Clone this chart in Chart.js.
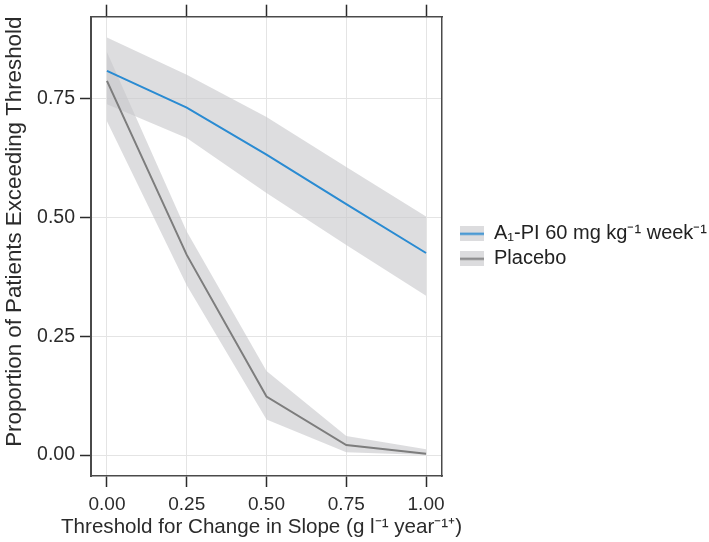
<!DOCTYPE html>
<html>
<head>
<meta charset="utf-8">
<script src="https://cdn.jsdelivr.net/npm/chart.js@4/dist/chart.umd.min.js"></script>
<style>
  html, body { margin: 0; padding: 0; background: #ffffff; }
  #wrap { width: 709px; height: 542px; }
</style>
</head>
<body>
<div id="wrap"><canvas id="c" width="709" height="542"></canvas></div>
<script>
// ---- data ----
const thresholds = [0.00, 0.25, 0.50, 0.75, 1.00];
const xTickLabels = ["0.00", "0.25", "0.50", "0.75", "1.00"];
const yTickValues = [0.00, 0.25, 0.50, 0.75];

const a1piMean  = [0.808, 0.731, 0.632, 0.528, 0.425];
const a1piUpper = [0.878, 0.800, 0.711, 0.606, 0.502];
const a1piLower = [0.738, 0.667, 0.551, 0.442, 0.335];

const placeboMean  = [0.787, 0.421, 0.123, 0.021, 0.003];
const placeboUpper = [0.848, 0.470, 0.177, 0.040, 0.012];
const placeboLower = [0.702, 0.357, 0.075, 0.006, 0.000];

const seriesLabels = ["A\u2081-PI 60 mg kg\u207B\u00B9 week\u207B\u00B9", "Placebo"];
const xTitle = "Threshold for Change in Slope (g l\u207B\u00B9 year\u207B\u00B9\u207A)";
const yTitle = "Proportion of Patients Exceeding Threshold";

// ---- styling ----
const BLUE = "#2a8bd2";
const GREY = "#7d7d7d";
const RIBBON = "rgba(200,200,203,0.62)";
const DARK = "#2b2b2b";
const GRID = "#e4e4e4";
const FONT = "'Liberation Sans', Arial, Helvetica, sans-serif";

function pts(ys) { return thresholds.map((x, i) => ({ x: x, y: ys[i] })); }

function keyImage(color) {
  const cv = document.createElement("canvas");
  cv.width = 24; cv.height = 15;
  const g = cv.getContext("2d");
  g.fillStyle = "#dcdcde";
  g.fillRect(0, 0, 24, 15);
  g.strokeStyle = color;
  g.lineWidth = 2;
  g.beginPath(); g.moveTo(0, 7.5); g.lineTo(24, 7.5); g.stroke();
  return cv;
}
const keyImages = [keyImage(BLUE), keyImage(GREY)];

const setTicks = vals => scale => { scale.ticks = vals.map(v => ({ value: v })); };

// x-axis title drawn below the bottom axis, centred on the plot (wider than the plot, so not squeezed)
const xTitlePlugin = {
  id: "xTitlePlugin",
  afterDraw(chart) {
    const { ctx, chartArea } = chart;
    ctx.save();
    ctx.font = "20.6px " + FONT;
    ctx.fillStyle = DARK;
    ctx.textAlign = "center";
    ctx.textBaseline = "middle";
    ctx.fillText(xTitle, (chartArea.left + chartArea.right) / 2 - 5, 527);
    ctx.restore();
  }
};

const ctx = document.getElementById("c").getContext("2d");
new Chart(ctx, {
  type: "line",
  plugins: [xTitlePlugin],
  data: {
    datasets: [
      { label: seriesLabels[0], data: pts(a1piMean), borderColor: BLUE, borderWidth: 2, pointRadius: 0, fill: false, tension: 0 },
      { label: seriesLabels[1], data: pts(placeboMean), borderColor: GREY, borderWidth: 2, pointRadius: 0, fill: false, tension: 0 },
      { label: "a1piUpper", data: pts(a1piUpper), borderWidth: 0, borderColor: "rgba(0,0,0,0)", pointRadius: 0, backgroundColor: RIBBON, fill: 3 },
      { label: "a1piLower", data: pts(a1piLower), borderWidth: 0, borderColor: "rgba(0,0,0,0)", pointRadius: 0, fill: false },
      { label: "placeboUpper", data: pts(placeboUpper), borderWidth: 0, borderColor: "rgba(0,0,0,0)", pointRadius: 0, backgroundColor: RIBBON, fill: 5 },
      { label: "placeboLower", data: pts(placeboLower), borderWidth: 0, borderColor: "rgba(0,0,0,0)", pointRadius: 0, fill: false }
    ]
  },
  options: {
    responsive: false,
    animation: false,
    events: [],
    layout: { padding: { left: 0, right: 0, top: 0, bottom: 0 } },
    scales: {
      x: {
        type: "linear", position: "bottom", min: -0.05, max: 1.05,
        afterBuildTicks: setTicks(thresholds),
        afterFit: s => { s.height = 66; },
        ticks: { callback: (v, i) => xTickLabels[i], color: DARK, padding: 6, maxRotation: 0, autoSkip: false, font: { family: FONT, size: 19 } },
        grid: { color: GRID, lineWidth: 1, tickColor: DARK, tickLength: 11, tickWidth: 1.5 },
        border: { display: true, color: "#4a4a4a", width: 1.5 },
        title: { display: false }
      },
      xTop: {
        type: "linear", position: "top", min: -0.05, max: 1.05,
        afterBuildTicks: setTicks(thresholds),
        afterFit: s => { s.height = 14; },
        ticks: { display: false },
        grid: { drawOnChartArea: false, tickColor: DARK, tickLength: 12, tickWidth: 1.5 },
        border: { display: true, color: "#4a4a4a", width: 1.5 }
      },
      y: {
        type: "linear", position: "left", min: -0.044, max: 0.922,
        afterBuildTicks: setTicks(yTickValues),
        afterFit: s => { s.width = 91; },
        ticks: { callback: v => v.toFixed(2), color: DARK, padding: 5, font: { family: FONT, size: 19.5 } },
        grid: { color: GRID, lineWidth: 1, tickColor: DARK, tickLength: 11, tickWidth: 1.5 },
        border: { display: true, color: "#4a4a4a", width: 2 },
        title: { display: true, text: yTitle, align: "end", color: DARK, padding: { top: 1, bottom: 0 }, font: { family: FONT, size: 22.3 } }
      },
      yRight: {
        type: "linear", position: "right", min: -0.044, max: 0.922,
        afterFit: s => { s.width = 13; },
        ticks: { display: false },
        grid: { drawOnChartArea: false, drawTicks: false },
        border: { display: true, color: "#4a4a4a", width: 1.5 }
      }
    },
    plugins: {
      tooltip: { enabled: false },
      legend: {
        display: true,
        position: "right",
        align: "center",
        fullSize: false,
        maxWidth: 254,
        labels: {
          usePointStyle: true,
          pointStyleWidth: 24,
          padding: 5,
          color: "#222222",
          font: { family: FONT, size: 20 },
          generateLabels: chart => {
            const items = Chart.defaults.plugins.legend.labels.generateLabels(chart);
            return items.filter(it => it.datasetIndex < 2).map(it => Object.assign({}, it, {
              pointStyle: keyImages[it.datasetIndex],
              fontColor: "#222222",
              hidden: false
            }));
          }
        }
      }
    }
  }
});
</script>
</body>
</html>
